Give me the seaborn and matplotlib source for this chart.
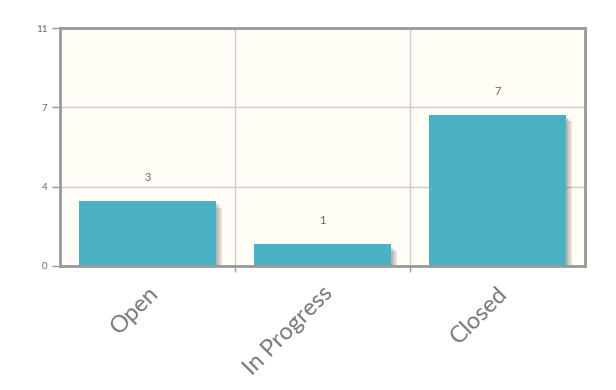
import numpy as np
import pandas as pd
import matplotlib
matplotlib.use('Agg')
import matplotlib.pyplot as plt
import matplotlib.transforms as mtransforms
import seaborn as sns

# dados
status = ['Open', 'In Progress', 'Closed']
total = [3, 1, 7]
y_ticks = [0, 11 / 3, 22 / 3, 11]
y_labels = ['0', '4', '7', '11']

df = pd.DataFrame({'Status': status, 'Total': total})

sns.set_theme(style='white')
plt.rcParams['font.family'] = ['Lato', 'DejaVu Sans']

fig = plt.figure(figsize=(6.16, 3.90), dpi=100)
ax = fig.add_axes([0.0974, 0.318, 0.852, 0.610])
ax.set_facecolor('#fffdf6')

# sombra das barras (3 camadas deslocadas)
n = 0
for k in [1, 2, 3]:
    sns.barplot(data=df, x='Status', y='Total', color='#000000', width=0.78,
                saturation=1, linewidth=0, ax=ax, zorder=2)
    off = mtransforms.ScaledTranslation(2.2 * k / 100, -2.2 * k / 100, fig.dpi_scale_trans)
    for p in ax.patches[n:]:
        p.set_alpha(0.1)
        p.set_transform(ax.transData + off)
    n = len(ax.patches)

# barras
sns.barplot(data=df, x='Status', y='Total', color='#4bb2c5', width=0.78,
            saturation=1, linewidth=0, ax=ax, zorder=3)

ax.set_xlim(-0.5, 2.5)
ax.set_ylim(0, 11)
ax.set_yticks(y_ticks)
ax.set_yticklabels(y_labels)
ax.set_xticks([0.5, 1.5], minor=True)
ax.grid(False)
ax.grid(True, which='minor', axis='x', color='#cccccc', lw=1, zorder=0)
ax.grid(True, which='major', axis='y', color='#cccccc', lw=1, zorder=0)
ax.set_axisbelow(True)

ax.tick_params(axis='y', which='major', length=6, width=1, color='#999999',
               labelsize=7, labelcolor='#666666', left=True, pad=3)
ax.tick_params(axis='x', which='minor', length=4, width=1, color='#999999', bottom=True)
ax.tick_params(axis='x', which='major', length=0, labelsize=17, labelcolor='#777777', pad=12)
for lbl in ax.get_xticklabels():
    lbl.set_rotation(45)
    lbl.set_ha('right')
    lbl.set_rotation_mode('anchor')

for s in ax.spines.values():
    s.set_color('#999999')
    s.set_linewidth(2)
    s.set_zorder(5)

# rotulos de valor
for i, v in enumerate(total):
    ax.annotate(str(v), (i, v), xytext=(0, 13), textcoords='offset points',
                ha='center', va='bottom', fontsize=8, color='#666666')

ax.set_xlabel('')
ax.set_ylabel('')
fig.savefig('out.png', dpi=100, facecolor='white')
